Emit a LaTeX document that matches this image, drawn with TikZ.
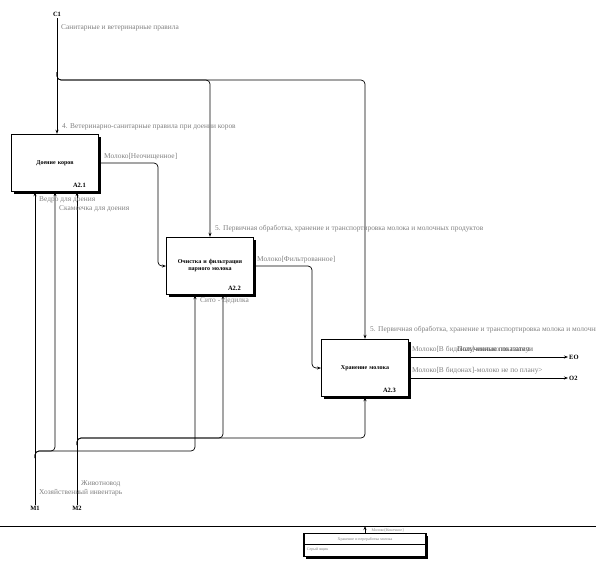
\documentclass[tikz,border=0pt]{standalone}
\usepackage{fontspec}
\setmainfont{Liberation Serif}
\usetikzlibrary{arrows.meta,shadows,calc}

\tikzset{
  func/.style={draw, line width=1.4pt, fill=white, minimum width=84pt, minimum height=57pt,
    text width=80pt, align=center, font=\fontsize{6}{7}\selectfont\bfseries,
    drop shadow={shadow xshift=2.5pt, shadow yshift=-2.5pt, opacity=1, fill=black}},
  conn/.style={line width=0.7pt, rounded corners=4pt, -{Stealth[length=4pt,width=3pt]}},
  lbl/.style={anchor=west, text=gray, font=\fontsize{7.4}{8}\selectfont, inner sep=1pt},
  tag/.style={font=\fontsize{6.5}{7}\selectfont\bfseries, inner sep=1pt},
  num/.style={font=\fontsize{6.5}{7}\selectfont\bfseries, anchor=south east, inner sep=1pt},
}

\begin{document}
\begin{tikzpicture}[x=1pt,y=-1pt]
\useasboundingbox (0,0) rectangle (596,576);
\clip (0,0) rectangle (596,576);

% functions
\node[func] (A21) at (55,163) {Доение коров};
\node[func] (A22) at (210,266) {Очистка и фильтрация парного молока};
\node[func] (A23) at (365,368) {Хранение молока};
\node[num] at ($(A21.south east)+(-12,-3)$) {A2.1};
\node[num] at ($(A22.south east)+(-12,-3)$) {A2.2};
\node[num] at ($(A23.south east)+(-12,-3)$) {A2.3};

% boundary points
\coordinate (c1) at (57,18);
\coordinate (c1j) at (57,72);
\coordinate (c2) at (210,80);
\coordinate (c3) at (365,80);
\coordinate (m1) at (35,505);
\coordinate (m1j) at (35,458);
\coordinate (s1) at (55,451);
\coordinate (s2) at (195,451);
\coordinate (m2) at (77,505);
\coordinate (m2j) at (77,445);
\coordinate (t1) at (223,438);
\coordinate (t2) at (365,438);
\coordinate (o1) at (568,357);
\coordinate (o2) at (568,378);
\coordinate (k1) at (158,0);
\coordinate (k2) at (312,0);

\node[tag,above] at (c1) {C1};
\node[tag,below] at (m1) {M1};
\node[tag,below] at (m2) {M2};
\node[tag,right] at (o1) {EO};
\node[tag,right] at (o2) {O2};

% controls
\draw[conn] (c1) -- (A21.north -| c1);
\draw[conn] (c1j) |- (c2) -- (A22.north -| c2);
\draw[conn] (c1j) |- (c3) -- (A23.north -| c3);

% flows
\draw[conn] (A21.east) -| (k1 |- A22.west) -- (A22.west);
\draw[conn] (A22.east) -| (k2 |- A23.west) -- (A23.west);
\draw[conn] (A23.east |- o1) -- (o1);
\draw[conn] (A23.east |- o2) -- (o2);

% mechanisms
\draw[conn] (m1) -- (A21.south -| m1);
\draw[conn] (m1j) |- (s1) -- (A21.south -| s1);
\draw[conn] (m1j) |- (s2) -- (A22.south -| s2);
\draw[conn] (m2) -- (A21.south -| m2);
\draw[conn] (m2j) |- (t1) -- (A22.south -| t1);
\draw[conn] (m2j) |- (t2) -- (A23.south -| t2);

% labels
\node[lbl] at (60,28) {Санитарные и ветеринарные правила};
\node[lbl] at (61,127) {4. Ветеринарно-санитарные правила при доении коров};
\node[lbl] at (103,157) {Молоко[Неочищенное]};
\node[lbl] at (214,229) {5. Первичная обработка, хранение и транспортировка молока и молочных продуктов};
\node[lbl] at (256,260) {Молоко[Фильтрованное]};
\node[lbl] at (199,301) {Сито - Цедилка};
\node[lbl] at (369,330) {5. Первичная обработка, хранение и транспортировка молока и молочных продуктов};
\node[lbl] at (411,350) {Молоко[В бидонах]-молоко по плану};
\node[lbl,text=black!70] at (456,350) {Полученные показатели};
\node[lbl] at (411,371) {Молоко[В бидонах]-молоко не по плану>};
\node[lbl] at (38,200) {Ведро для доения};
\node[lbl] at (58,209) {Скамеечка для доения};
\node[lbl] at (80,484) {Животновод};
\node[lbl] at (38,493) {Хозяйственный инвентарь};

% footer
\coordinate (bl) at (0,526);
\coordinate (br) at (596,526);
\draw[line width=0.7pt] (bl) -- (br);
\node[draw, line width=1.2pt, fill=white, minimum width=122pt, minimum height=23pt,
  drop shadow={shadow xshift=2pt, shadow yshift=-2pt, opacity=1, fill=black}] (foot) at (365,545) {};
\draw[line width=0.8pt] (foot.west |- 0,544) -- (foot.east |- 0,544);
\node[font=\fontsize{4}{5}\selectfont, text=gray] at (365,539) {Хранение и переработка молока};
\node[font=\fontsize{4}{5}\selectfont, text=gray, anchor=west] at (foot.west |- 0,550) {Серый ящик};
\draw[conn] (foot.north) -- (foot.north |- bl);
\node[font=\fontsize{4}{5}\selectfont, text=gray, anchor=west] at (368,530) {Молоко[Конечное]};
\end{tikzpicture}
\end{document}
